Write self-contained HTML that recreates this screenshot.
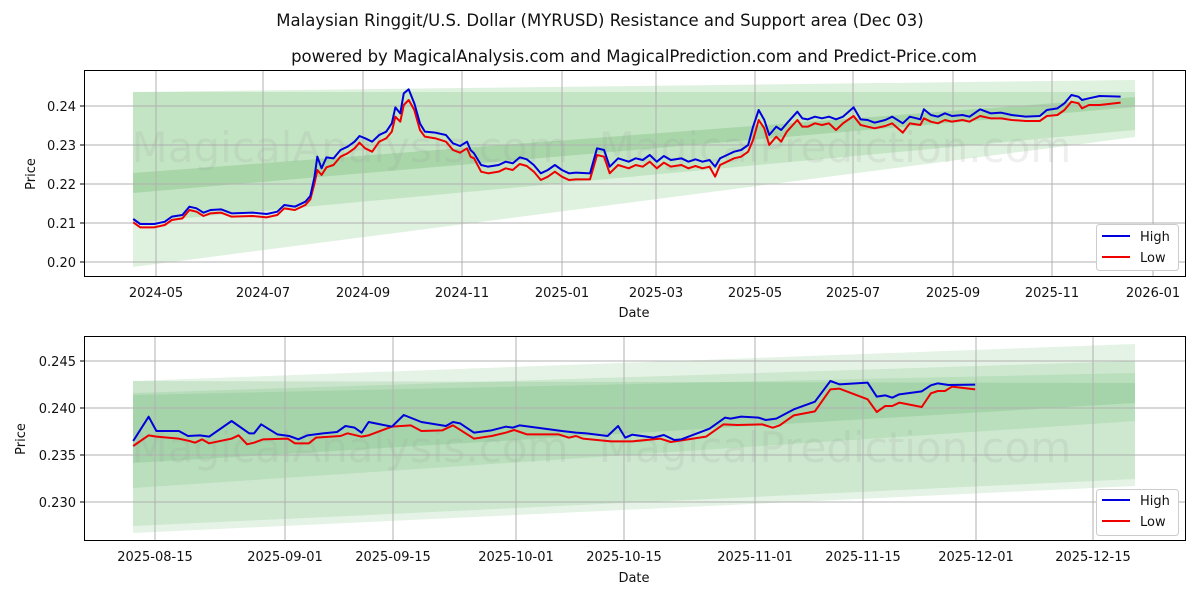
<!DOCTYPE html>
<html><head><meta charset="utf-8"><style>
body{margin:0;background:#fff;}
svg{display:block;font-family:"DejaVu Sans","Liberation Sans",sans-serif;}
</style></head><body>
<svg width="1200" height="600" viewBox="0 0 1200 600" xmlns="http://www.w3.org/2000/svg">
<rect width="1200" height="600" fill="#fff"/>
<text x="600" y="26" font-size="16.5" text-anchor="middle" fill="#111">Malaysian Ringgit/U.S. Dollar (MYRUSD) Resistance and Support area (Dec 03)</text>
<text x="634" y="62" font-size="16.5" text-anchor="middle" fill="#111">powered by MagicalAnalysis.com and MagicalPrediction.com and Predict-Price.com</text>

<!-- TOP CHART -->
<g>
<polygon points="133,92 1135,80 1135,137 133,267" fill="#4caf50" opacity="0.18"/>
<polygon points="133,92 1135,92 1135,130 133,223" fill="#4caf50" opacity="0.18"/>
<polygon points="133,173 1135,97 1135,107 133,193" fill="#3d9a40" opacity="0.2"/>
<g stroke="#b0b0b0" stroke-width="1">
<line x1="156" y1="70" x2="156" y2="277"/><line x1="263" y1="70" x2="263" y2="277"/><line x1="363" y1="70" x2="363" y2="277"/><line x1="462" y1="70" x2="462" y2="277"/><line x1="562" y1="70" x2="562" y2="277"/><line x1="656" y1="70" x2="656" y2="277"/><line x1="755" y1="70" x2="755" y2="277"/><line x1="853" y1="70" x2="853" y2="277"/><line x1="953" y1="70" x2="953" y2="277"/><line x1="1052" y1="70" x2="1052" y2="277"/><line x1="1153" y1="70" x2="1153" y2="277"/>
<line x1="84" y1="106" x2="1186" y2="106"/><line x1="84" y1="145" x2="1186" y2="145"/><line x1="84" y1="184" x2="1186" y2="184"/><line x1="84" y1="223" x2="1186" y2="223"/><line x1="84" y1="262" x2="1186" y2="262"/>
</g>
<text x="350" y="162" font-size="42" fill="#999" opacity="0.15" text-anchor="middle">MagicalAnalysis.com</text>
<text x="835" y="162" font-size="42" fill="#999" opacity="0.15" text-anchor="middle">MagicalPrediction.com</text>
<g transform="translate(84,70) scale(0.70281,0.33333)" fill="none" stroke-width="2" stroke-linejoin="round">
<polyline transform="translate(0,10)" stroke="#ee0000" vector-effect="non-scaling-stroke" points="70,447 80,462 100,462 115,455 125,440 140,435 150,410 160,415 170,428 180,420 195,418 210,430 240,428 260,432 275,425 285,405 300,410 315,395 322,378 328,330 332,290 338,305 345,282 355,275 365,250 375,240 385,225 392,208 400,225 410,235 420,205 430,195 438,175 443,130 450,145 455,95 462,80 470,110 478,170 485,190 500,195 515,205 525,230 535,238 545,225 550,250 555,255 565,295 575,300 590,295 600,285 610,290 620,272 630,278 640,295 650,320 660,310 670,295 680,310 690,320 700,318 720,318 730,245 740,250 748,300 760,275 775,285 785,275 795,280 805,265 815,285 825,268 835,280 850,275 860,285 870,278 880,285 890,280 898,310 905,275 915,265 925,255 935,250 945,235 952,200 960,140 968,165 975,215 985,190 992,205 1000,175 1015,140 1022,160 1030,160 1040,150 1050,155 1060,150 1070,170 1080,150 1095,128 1105,155 1115,160 1125,165 1140,158 1150,150 1165,178 1175,150 1190,155 1195,135 1205,145 1215,150 1225,140 1235,145 1250,140 1260,145 1275,128 1290,135 1305,135 1320,140 1340,143 1360,143 1370,128 1385,125 1395,110 1405,85 1415,90 1420,105 1430,95 1445,95 1475,88"/>
<polyline stroke="#0000dd" vector-effect="non-scaling-stroke" points="70,447 80,462 100,462 115,455 125,440 140,435 150,410 160,415 170,428 180,420 195,418 210,430 240,428 260,432 275,425 285,405 300,410 315,395 322,378 328,320 332,260 338,295 345,262 355,265 365,240 375,230 385,215 392,198 400,205 410,215 420,195 430,185 438,160 443,112 450,130 455,70 462,58 470,100 478,160 485,185 500,188 515,195 525,220 535,228 545,215 550,240 555,250 565,285 575,290 590,285 600,275 610,280 620,262 630,268 640,285 650,310 660,300 670,285 680,300 690,310 700,308 720,310 730,235 740,240 748,290 760,265 775,275 785,265 795,270 805,255 815,275 825,258 835,270 850,265 860,275 870,268 880,275 890,270 898,290 905,265 915,255 925,245 935,240 945,225 952,170 960,120 968,150 975,195 985,170 992,180 1000,160 1015,125 1022,145 1030,148 1040,140 1050,145 1060,140 1070,148 1080,140 1095,112 1105,148 1115,150 1125,158 1140,150 1150,140 1165,160 1175,140 1190,148 1195,118 1205,135 1215,140 1225,130 1235,138 1250,135 1260,140 1275,118 1290,130 1305,128 1320,135 1340,140 1360,138 1370,120 1385,115 1395,100 1405,75 1415,80 1420,90 1430,85 1445,78 1475,80"/>
</g>
<rect x="84.5" y="70.5" width="1101" height="206" fill="none" stroke="#000" stroke-width="1"/>
<g font-size="13" fill="#111" text-anchor="end">
<text x="76" y="111">0.24</text><text x="76" y="150">0.23</text><text x="76" y="189">0.22</text><text x="76" y="228">0.21</text><text x="76" y="267">0.20</text>
</g>
<g stroke="#000"><line x1="80" y1="106" x2="84" y2="106"/><line x1="80" y1="145" x2="84" y2="145"/><line x1="80" y1="184" x2="84" y2="184"/><line x1="80" y1="223" x2="84" y2="223"/><line x1="80" y1="262" x2="84" y2="262"/></g>
<g font-size="13" fill="#111" text-anchor="middle">
<text x="156" y="297">2024-05</text><text x="263" y="297">2024-07</text><text x="363" y="297">2024-09</text><text x="462" y="297">2024-11</text><text x="562" y="297">2025-01</text><text x="656" y="297">2025-03</text><text x="755" y="297">2025-05</text><text x="853" y="297">2025-07</text><text x="953" y="297">2025-09</text><text x="1052" y="297">2025-11</text><text x="1153" y="297">2026-01</text>
<text x="634" y="317">Date</text>
</g>
<text transform="translate(35,174) rotate(-90)" font-size="13" fill="#111" text-anchor="middle">Price</text>
<rect x="1096.5" y="224.5" width="82" height="46" rx="3" fill="#fff" stroke="#ccc"/>
<line x1="1102" y1="236" x2="1130" y2="236" stroke="#0000dd" stroke-width="2"/><text x="1140" y="241" font-size="13" fill="#111">High</text>
<line x1="1102" y1="257" x2="1130" y2="257" stroke="#ee0000" stroke-width="2"/><text x="1140" y="262" font-size="13" fill="#111">Low</text>
</g>

<!-- BOTTOM CHART -->
<g>
<polygon points="133,381 1135,344 1135,486 133,533" fill="#4caf50" opacity="0.15"/>
<polygon points="133,393 1135,361 1135,479 133,526" fill="#4caf50" opacity="0.15"/>
<polygon points="133,395 1135,373 1135,421 133,488" fill="#4caf50" opacity="0.15"/>
<polygon points="133,381 1135,383 1135,403 133,463" fill="#3d9a40" opacity="0.15"/>
<g stroke="#b0b0b0" stroke-width="1">
<line x1="155" y1="336" x2="155" y2="541"/><line x1="285" y1="336" x2="285" y2="541"/><line x1="393" y1="336" x2="393" y2="541"/><line x1="516" y1="336" x2="516" y2="541"/><line x1="624" y1="336" x2="624" y2="541"/><line x1="755" y1="336" x2="755" y2="541"/><line x1="863" y1="336" x2="863" y2="541"/><line x1="976" y1="336" x2="976" y2="541"/><line x1="1093" y1="336" x2="1093" y2="541"/>
<line x1="84" y1="361" x2="1186" y2="361"/><line x1="84" y1="408" x2="1186" y2="408"/><line x1="84" y1="455" x2="1186" y2="455"/><line x1="84" y1="502" x2="1186" y2="502"/>
</g>
<text x="350" y="462" font-size="42" fill="#999" opacity="0.15" text-anchor="middle">MagicalAnalysis.com</text>
<text x="835" y="462" font-size="42" fill="#999" opacity="0.15" text-anchor="middle">MagicalPrediction.com</text>
<g transform="translate(84,336) scale(0.70281,0.33333)" fill="none" stroke-width="2" stroke-linejoin="round">
<polyline stroke="#ee0000" vector-effect="non-scaling-stroke" points="70,330 92,298 103,302 135,308 150,315 158,320 168,310 178,322 210,308 220,298 232,325 242,320 255,310 290,308 300,322 320,322 330,305 365,300 375,292 395,302 405,298 438,272 465,268 480,285 510,283 525,268 555,308 580,300 600,290 612,282 630,295 675,295 690,305 700,300 710,308 750,316 780,316 820,308 835,318 885,302 910,265 930,267 965,265 980,275 990,268 1010,238 1040,226 1062,160 1075,158 1115,190 1128,228 1140,210 1150,210 1160,200 1192,213 1205,172 1215,165 1225,165 1235,152 1268,160"/>
<polyline stroke="#0000dd" vector-effect="non-scaling-stroke" points="70,315 92,242 103,285 135,285 148,300 165,298 178,302 210,255 235,292 242,292 252,265 275,295 292,300 305,310 318,298 340,292 360,288 372,270 385,275 395,290 405,258 438,272 455,237 480,258 515,270 525,258 535,262 555,290 580,283 600,272 610,275 620,268 680,285 700,290 715,292 745,300 760,270 770,305 780,296 810,305 825,297 840,312 850,310 890,278 912,245 920,248 935,242 960,245 970,252 985,248 1010,220 1040,197 1062,135 1075,145 1115,140 1128,182 1140,178 1150,185 1160,175 1192,166 1205,148 1215,142 1230,147 1268,146"/>
</g>
<rect x="84.5" y="336.5" width="1101" height="204" fill="none" stroke="#000" stroke-width="1"/>
<g font-size="13" fill="#111" text-anchor="end">
<text x="76" y="366">0.245</text><text x="76" y="413">0.240</text><text x="76" y="460">0.235</text><text x="76" y="507">0.230</text>
</g>
<g stroke="#000"><line x1="80" y1="361" x2="84" y2="361"/><line x1="80" y1="408" x2="84" y2="408"/><line x1="80" y1="455" x2="84" y2="455"/><line x1="80" y1="502" x2="84" y2="502"/></g>
<g font-size="13" fill="#111" text-anchor="middle">
<text x="155" y="561">2025-08-15</text><text x="285" y="561">2025-09-01</text><text x="393" y="561">2025-09-15</text><text x="516" y="561">2025-10-01</text><text x="624" y="561">2025-10-15</text><text x="755" y="561">2025-11-01</text><text x="863" y="561">2025-11-15</text><text x="976" y="561">2025-12-01</text><text x="1093" y="561">2025-12-15</text>
<text x="634" y="582">Date</text>
</g>
<text transform="translate(25,439) rotate(-90)" font-size="13" fill="#111" text-anchor="middle">Price</text>
<rect x="1096.5" y="489.5" width="82" height="46" rx="3" fill="#fff" stroke="#ccc"/>
<line x1="1102" y1="500" x2="1130" y2="500" stroke="#0000dd" stroke-width="2"/><text x="1140" y="505" font-size="13" fill="#111">High</text>
<line x1="1102" y1="521" x2="1130" y2="521" stroke="#ee0000" stroke-width="2"/><text x="1140" y="526" font-size="13" fill="#111">Low</text>
</g>
</svg>
</body></html>
